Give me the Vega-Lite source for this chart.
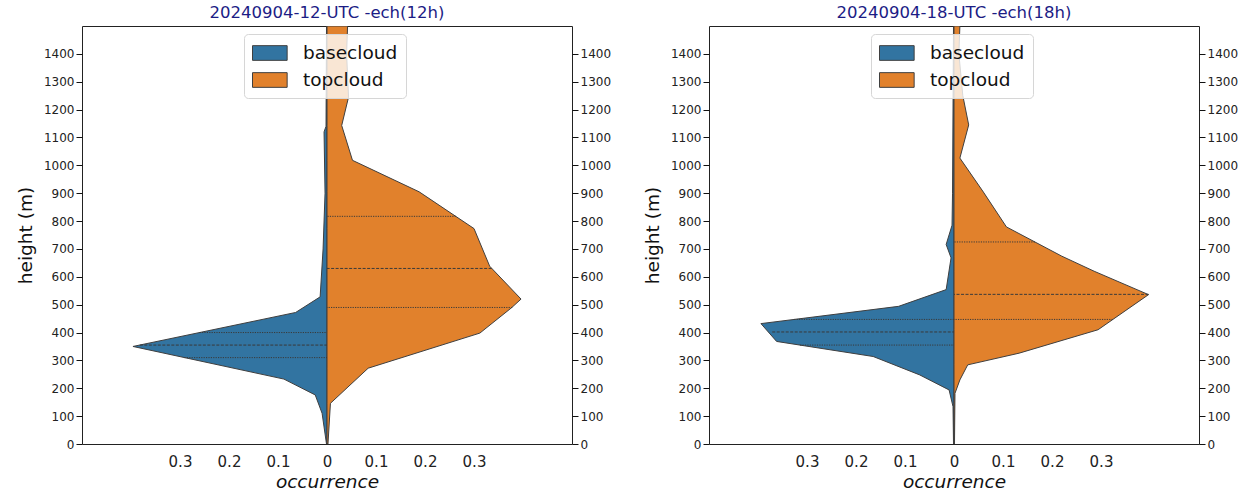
{
  "$schema": "https://vega.github.io/schema/vega-lite/v6.json",
  "padding": {"left": 15, "top": 4, "right": 0, "bottom": 0},
  "background": "white",
  "config": {
    "font": "DejaVu Sans",
    "view": {"stroke": "#222", "strokeWidth": 1},
    "axis": {"grid": false, "domain": false, "labelColor": "#222", "titleColor": "#111", "titleFontWeight": "normal", "tickColor": "#111"}
  },
  "datasets": {
    "shape12": [
      {"series": "basecloud", "h": 0, "occ": -0.001},
      {"series": "basecloud", "h": 110, "occ": -0.01},
      {"series": "basecloud", "h": 176, "occ": -0.024},
      {"series": "basecloud", "h": 233, "occ": -0.088},
      {"series": "basecloud", "h": 350, "occ": -0.396},
      {"series": "basecloud", "h": 472, "occ": -0.064},
      {"series": "basecloud", "h": 528, "occ": -0.014},
      {"series": "basecloud", "h": 700, "occ": -0.008},
      {"series": "basecloud", "h": 900, "occ": -0.004},
      {"series": "basecloud", "h": 1120, "occ": -0.006},
      {"series": "basecloud", "h": 1140, "occ": -0.002},
      {"series": "basecloud", "h": 1500, "occ": -0.001},
      {"series": "topcloud", "h": 0, "occ": 0.002},
      {"series": "topcloud", "h": 146, "occ": 0.007},
      {"series": "topcloud", "h": 272, "occ": 0.084},
      {"series": "topcloud", "h": 398, "occ": 0.312},
      {"series": "topcloud", "h": 488, "occ": 0.376},
      {"series": "topcloud", "h": 520, "occ": 0.396},
      {"series": "topcloud", "h": 638, "occ": 0.332},
      {"series": "topcloud", "h": 773, "occ": 0.30},
      {"series": "topcloud", "h": 905, "occ": 0.188},
      {"series": "topcloud", "h": 1018, "occ": 0.052},
      {"series": "topcloud", "h": 1143, "occ": 0.030},
      {"series": "topcloud", "h": 1245, "occ": 0.044},
      {"series": "topcloud", "h": 1400, "occ": 0.040},
      {"series": "topcloud", "h": 1500, "occ": 0.042}
    ],
    "quart12": [
      {"series": "basecloud", "h": 310, "occ": -0.291, "kind": "quartile"},
      {"series": "basecloud", "h": 355, "occ": -0.382, "kind": "median"},
      {"series": "basecloud", "h": 400, "occ": -0.260, "kind": "quartile"},
      {"series": "topcloud", "h": 490, "occ": 0.378, "kind": "quartile"},
      {"series": "topcloud", "h": 630, "occ": 0.336, "kind": "median"},
      {"series": "topcloud", "h": 817, "occ": 0.263, "kind": "quartile"}
    ],
    "shape18": [
      {"series": "basecloud", "h": 0, "occ": -0.001},
      {"series": "basecloud", "h": 134, "occ": -0.002},
      {"series": "basecloud", "h": 194, "occ": -0.010},
      {"series": "basecloud", "h": 248, "occ": -0.070},
      {"series": "basecloud", "h": 314, "occ": -0.165},
      {"series": "basecloud", "h": 368, "occ": -0.362},
      {"series": "basecloud", "h": 432, "occ": -0.394},
      {"series": "basecloud", "h": 494, "occ": -0.113},
      {"series": "basecloud", "h": 554, "occ": -0.016},
      {"series": "basecloud", "h": 668, "occ": -0.006},
      {"series": "basecloud", "h": 716, "occ": -0.016},
      {"series": "basecloud", "h": 785, "occ": -0.004},
      {"series": "basecloud", "h": 900, "occ": -0.003},
      {"series": "basecloud", "h": 1500, "occ": -0.001},
      {"series": "topcloud", "h": 0, "occ": 0.001},
      {"series": "topcloud", "h": 182, "occ": 0.002},
      {"series": "topcloud", "h": 230, "occ": 0.012},
      {"series": "topcloud", "h": 284, "occ": 0.028},
      {"series": "topcloud", "h": 326, "occ": 0.133},
      {"series": "topcloud", "h": 410, "occ": 0.294},
      {"series": "topcloud", "h": 536, "occ": 0.397},
      {"series": "topcloud", "h": 620, "occ": 0.286},
      {"series": "topcloud", "h": 674, "occ": 0.22},
      {"series": "topcloud", "h": 779, "occ": 0.107},
      {"series": "topcloud", "h": 904, "occ": 0.06},
      {"series": "topcloud", "h": 1026, "occ": 0.012},
      {"series": "topcloud", "h": 1145, "occ": 0.030},
      {"series": "topcloud", "h": 1250, "occ": 0.018},
      {"series": "topcloud", "h": 1400, "occ": 0.010},
      {"series": "topcloud", "h": 1500, "occ": 0.012}
    ],
    "quart18": [
      {"series": "basecloud", "h": 355, "occ": -0.314, "kind": "quartile"},
      {"series": "basecloud", "h": 402, "occ": -0.371, "kind": "median"},
      {"series": "basecloud", "h": 447, "occ": -0.326, "kind": "quartile"},
      {"series": "topcloud", "h": 447, "occ": 0.324, "kind": "quartile"},
      {"series": "topcloud", "h": 537, "occ": 0.397, "kind": "median"},
      {"series": "topcloud", "h": 725, "occ": 0.165, "kind": "quartile"}
    ]
  },
  "resolve": {"scale": {"fill": "independent"}, "legend": {"fill": "independent"}},
  "spacing": 30,
  "hconcat": [
    {
      "title": {"text": "20240904-12-UTC -ech(12h)", "fontSize": 16.5, "fontWeight": "normal", "color": "#1c1c85", "offset": 5},
      "width": 490,
      "height": 418,
      "resolve": {"axis": {"y": "independent"}},
      "layer": [
        {
          "data": {"name": "shape12"},
          "mark": {"type": "area", "orient": "horizontal", "stroke": "#3f3f3f", "strokeWidth": 1, "clip": true, "opacity": 1},
          "encoding": {
            "y": {"field": "h", "type": "quantitative", "scale": {"domain": [0, 1500], "nice": false},
                  "axis": {"orient": "left", "title": "height (m)", "titleFontSize": 18.5, "format": "d", "values": [0,100,200,300,400,500,600,700,800,900,1000,1100,1200,1300,1400], "labelFontSize": 12, "tickSize": 6, "titlePadding": 8}},
            "x": {"field": "occ", "type": "quantitative", "stack": null, "scale": {"domain": [-0.5, 0.5], "nice": false},
                  "axis": {"title": "occurrence", "titleFontSize": 18.5, "titleFontStyle": "italic", "values": [-0.3,-0.2,-0.1,0,0.1,0.2,0.3], "labelExpr": "datum.value == 0 ? '0' : format(abs(datum.value), '.1f')", "labelFontSize": 15, "ticks": false, "labelPadding": 10, "titlePadding": 3}},
            "x2": {"datum": 0},
            "fill": {"field": "series", "type": "nominal", "scale": {"domain": ["basecloud", "topcloud"], "range": ["#3274a1", "#e1812c"]},
                     "legend": {"orient": "none", "legendX": 162, "legendY": 8, "title": null, "labelFontSize": 18.5, "labelColor": "#111",
                                "symbolType": "M-1,-0.7H2.3V0.7H-1Z", "symbolSize": 441, "symbolStrokeColor": "#3f3f3f", "symbolStrokeWidth": 1, "symbolOpacity": 1,
                                "fillColor": "rgba(255,255,255,0.8)", "strokeColor": "#d6d6d6", "cornerRadius": 4, "padding": 8, "rowPadding": 6, "labelOffset": 29}}
          }
        },
        {
          "data": {"name": "quart12"},
          "mark": {"type": "rule", "stroke": "#3a3a3a", "strokeWidth": 1},
          "encoding": {
            "y": {"field": "h", "type": "quantitative", "scale": {"domain": [0, 1500], "nice": false},
                  "axis": {"orient": "right", "title": null, "format": "d", "values": [0,100,200,300,400,500,600,700,800,900,1000,1100,1200,1300,1400], "labelFontSize": 12, "tickSize": 6}},
            "x": {"field": "occ", "type": "quantitative"},
            "x2": {"datum": 0},
            "strokeDash": {"field": "kind", "type": "nominal", "scale": {"domain": ["quartile", "median"], "range": [[1.2, 1.2], [3, 1.5]]}, "legend": null}
          }
        }
      ]
    },
    {
      "title": {"text": "20240904-18-UTC -ech(18h)", "fontSize": 16.5, "fontWeight": "normal", "color": "#1c1c85", "offset": 5},
      "width": 490,
      "height": 418,
      "resolve": {"axis": {"y": "independent"}},
      "layer": [
        {
          "data": {"name": "shape18"},
          "mark": {"type": "area", "orient": "horizontal", "stroke": "#3f3f3f", "strokeWidth": 1, "clip": true, "opacity": 1},
          "encoding": {
            "y": {"field": "h", "type": "quantitative", "scale": {"domain": [0, 1500], "nice": false},
                  "axis": {"orient": "left", "title": "height (m)", "titleFontSize": 18.5, "format": "d", "values": [0,100,200,300,400,500,600,700,800,900,1000,1100,1200,1300,1400], "labelFontSize": 12, "tickSize": 6, "titlePadding": 8}},
            "x": {"field": "occ", "type": "quantitative", "stack": null, "scale": {"domain": [-0.5, 0.5], "nice": false},
                  "axis": {"title": "occurrence", "titleFontSize": 18.5, "titleFontStyle": "italic", "values": [-0.3,-0.2,-0.1,0,0.1,0.2,0.3], "labelExpr": "datum.value == 0 ? '0' : format(abs(datum.value), '.1f')", "labelFontSize": 15, "ticks": false, "labelPadding": 10, "titlePadding": 3}},
            "x2": {"datum": 0},
            "fill": {"field": "series", "type": "nominal", "scale": {"domain": ["basecloud", "topcloud"], "range": ["#3274a1", "#e1812c"]},
                     "legend": {"orient": "none", "legendX": 162, "legendY": 8, "title": null, "labelFontSize": 18.5, "labelColor": "#111",
                                "symbolType": "M-1,-0.7H2.3V0.7H-1Z", "symbolSize": 441, "symbolStrokeColor": "#3f3f3f", "symbolStrokeWidth": 1, "symbolOpacity": 1,
                                "fillColor": "rgba(255,255,255,0.8)", "strokeColor": "#d6d6d6", "cornerRadius": 4, "padding": 8, "rowPadding": 6, "labelOffset": 29}}
          }
        },
        {
          "data": {"name": "quart18"},
          "mark": {"type": "rule", "stroke": "#3a3a3a", "strokeWidth": 1},
          "encoding": {
            "y": {"field": "h", "type": "quantitative", "scale": {"domain": [0, 1500], "nice": false},
                  "axis": {"orient": "right", "title": null, "format": "d", "values": [0,100,200,300,400,500,600,700,800,900,1000,1100,1200,1300,1400], "labelFontSize": 12, "tickSize": 6}},
            "x": {"field": "occ", "type": "quantitative"},
            "x2": {"datum": 0},
            "strokeDash": {"field": "kind", "type": "nominal", "scale": {"domain": ["quartile", "median"], "range": [[1.2, 1.2], [3, 1.5]]}, "legend": null}
          }
        }
      ]
    }
  ]
}
